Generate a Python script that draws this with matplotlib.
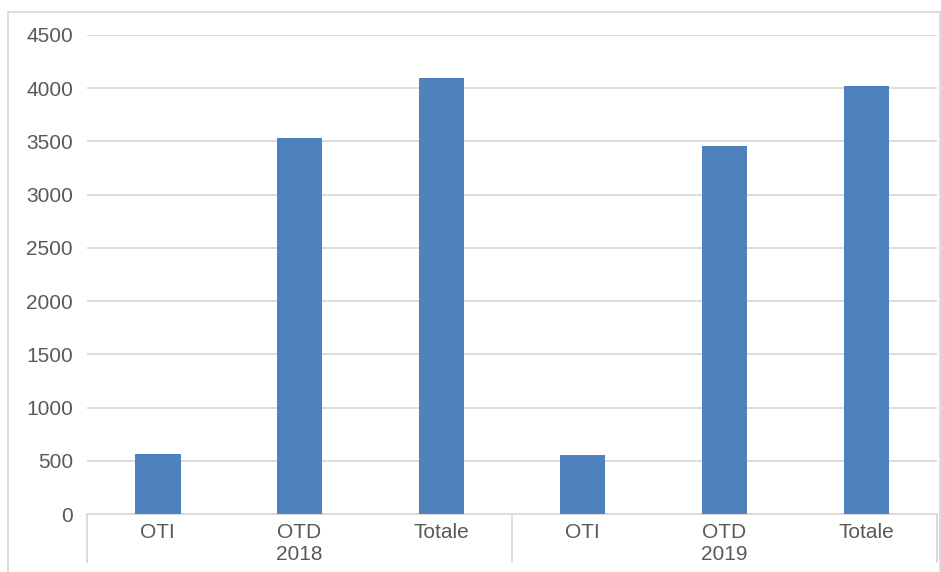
import numpy as np
import matplotlib.pyplot as plt
from matplotlib.lines import Line2D

# data
years = ['2018', '2019']
categories = ['OTI', 'OTD', 'Totale']
values_2018 = [566, 3535, 4100]
values_2019 = [557, 3460, 4017]

plt.rcParams['font.family'] = ['Liberation Sans', 'DejaVu Sans']
text_color = '#595959'
grid_color = '#D9D9D9'
bar_color = '#4F81BD'

W, H = 941, 572
fig = plt.figure(figsize=(W / 100, H / 100), dpi=100)
ax = fig.add_axes([87 / W, 1 - 514 / H, (937 - 87) / W, (514 - 35) / H])

values = values_2018 + values_2019
labels = categories * len(years)
x = np.arange(len(values))
ax.bar(x, values, width=0.32, color=bar_color, zorder=3)

ax.set_xlim(-0.5, len(values) - 0.5)
ax.set_ylim(0, 4500)
ax.set_yticks(np.arange(0, 4501, 500))
ax.tick_params(axis='y', length=0, pad=10, labelsize=15, labelcolor=text_color)
ax.set_xticks([])
ax.grid(axis='y', color=grid_color, linewidth=1.3, zorder=0)

for s in ['top', 'right', 'left']:
    ax.spines[s].set_visible(False)
ax.spines['bottom'].set_color(grid_color)
ax.spines['bottom'].set_linewidth(1.3)

# category labels, year labels and separators below the axis
trans = ax.get_xaxis_transform()
for xi, lab in zip(x, labels):
    ax.text(xi, -18 / 479, lab, transform=trans, ha='center', va='center',
            fontsize=15, color=text_color)
n = len(categories)
for i, yr in enumerate(years):
    ax.text(i * n + (n - 1) / 2, -41 / 479, yr, transform=trans, ha='center',
            va='center', fontsize=15, color=text_color)
for sep in np.arange(len(years) + 1) * n - 0.5:
    ax.plot([sep, sep], [0, -48 / 479], transform=trans, color=grid_color,
            linewidth=1.3, clip_on=False)

# outer chart frame
for xs, ys in [([8, 940], [12, 12]), ([8, 8], [12, H + 5]), ([940, 940], [12, H + 5])]:
    fig.add_artist(Line2D([v / W for v in xs], [1 - v / H for v in ys],
                          color=grid_color, linewidth=1.3))

fig.savefig('out.png', dpi=100)
